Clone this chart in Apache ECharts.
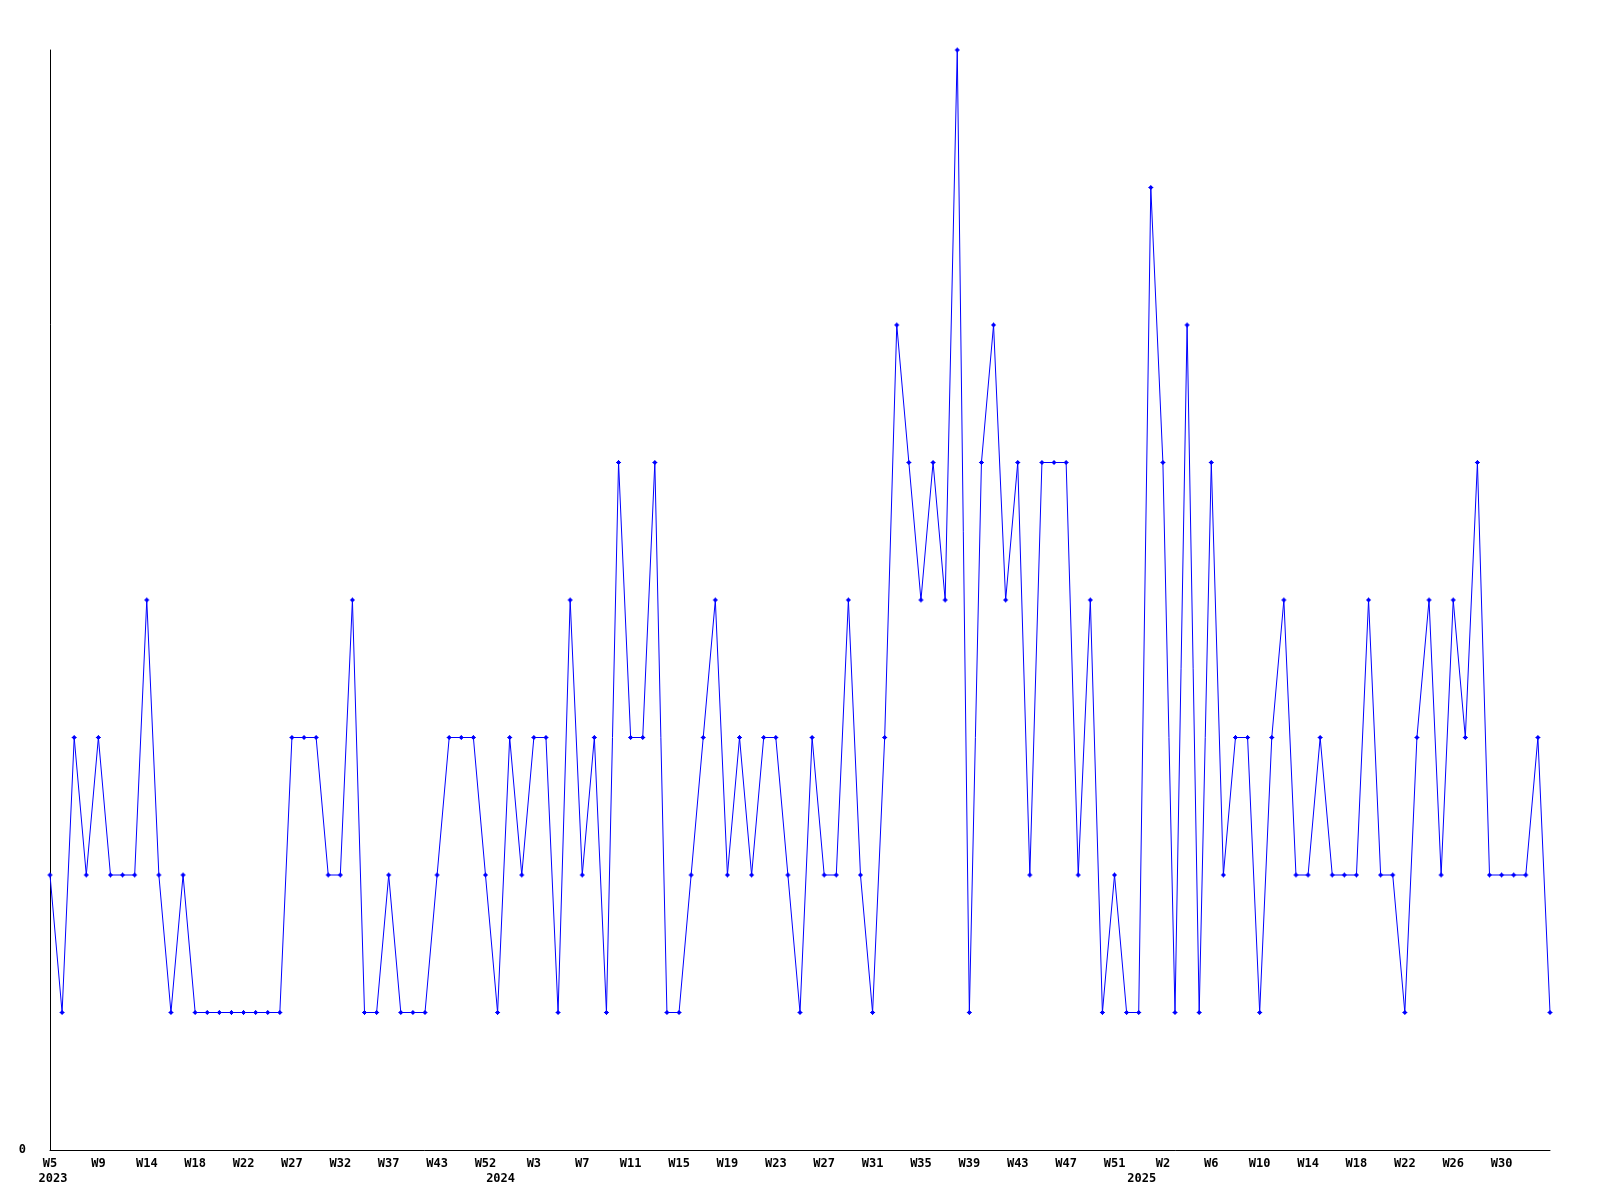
<!DOCTYPE html>
<html>
<head>
<meta charset="utf-8">
<script src="https://cdn.jsdelivr.net/npm/echarts@6/dist/echarts.min.js"></script>
<style>
  html, body { margin: 0; padding: 0; background: #fff; }
  #chart { width: 1600px; height: 1200px; }
</style>
</head>
<body>
<div id="chart"></div>
<script>
// Weekly categories (year-week)
const categories = [
  "2023-W5","2023-W6","2023-W7","2023-W8","2023-W9","2023-W10","2023-W11","2023-W12","2023-W14","2023-W15",
  "2023-W16","2023-W17","2023-W18","2023-W19","2023-W20","2023-W21","2023-W22","2023-W23","2023-W24","2023-W25",
  "2023-W27","2023-W28","2023-W29","2023-W31","2023-W32","2023-W33","2023-W34","2023-W35","2023-W37","2023-W38",
  "2023-W40","2023-W41","2023-W43","2023-W45","2023-W47","2023-W50","2023-W52",
  "2024-W0","2024-W1","2024-W2","2024-W3","2024-W4","2024-W5","2024-W6","2024-W7","2024-W8","2024-W9",
  "2024-W10","2024-W11","2024-W12","2024-W13","2024-W14","2024-W15","2024-W16","2024-W17","2024-W18","2024-W19",
  "2024-W20","2024-W21","2024-W22","2024-W23","2024-W24","2024-W25","2024-W26","2024-W27","2024-W28","2024-W29",
  "2024-W30","2024-W31","2024-W32","2024-W33","2024-W34","2024-W35","2024-W36","2024-W37","2024-W38","2024-W39",
  "2024-W40","2024-W41","2024-W42","2024-W43","2024-W44","2024-W45","2024-W46","2024-W47","2024-W48","2024-W49",
  "2024-W50","2024-W51","2024-W52",
  "2025-W0","2025-W1","2025-W2","2025-W3","2025-W4","2025-W5","2025-W6","2025-W7","2025-W8","2025-W9",
  "2025-W10","2025-W11","2025-W12","2025-W13","2025-W14","2025-W15","2025-W16","2025-W17","2025-W18","2025-W19",
  "2025-W20","2025-W21","2025-W22","2025-W23","2025-W24","2025-W25","2025-W26","2025-W27","2025-W28","2025-W29",
  "2025-W30","2025-W31","2025-W32","2025-W33","2025-W34"
];

// Weekly counts
const values = [
  2,1,3,2,3,2,2,2,4,2,
  1,2,1,1,1,1,1,1,1,1,
  3,3,3,2,2,4,1,1,2,1,
  1,1,2,3,3,3,2,1,3,2,
  3,3,1,4,2,3,1,5,3,3,
  5,1,1,2,3,4,2,3,2,3,
  3,2,1,3,2,2,4,2,1,3,
  6,5,4,5,4,8,1,5,6,4,
  5,2,5,5,5,2,4,1,2,1,
  1,7,5,1,6,1,5,2,3,3,
  1,3,4,2,2,3,2,2,2,4,
  2,2,1,3,4,2,4,3,5,2,
  2,2,2,3,1
];

const yTicks = [0, 8];

const weekStep = 4;
const lastWeekLabel = 120;

function yearOf(i) { return categories[i].split('-')[0]; }
function weekOf(i) { return categories[i].split('-')[1]; }
function isYearStart(i) { return i === 0 || yearOf(i) !== yearOf(i - 1); }
function isWeekLabel(i) { return i % weekStep === 0 && i <= lastWeekLabel; }

const chart = echarts.init(document.getElementById('chart'), null, { renderer: 'canvas' });

const font = { fontFamily: 'DejaVu Sans Mono', fontWeight: 'bold', fontSize: 12, color: '#000' };

chart.setOption({
  animation: false,
  backgroundColor: '#ffffff',
  grid: { left: 50, right: 50, top: 50, bottom: 50, containLabel: false },
  xAxis: {
    type: 'category',
    data: categories,
    boundaryGap: false,
    axisLine: { show: true, lineStyle: { color: '#000', width: 1 } },
    axisTick: { show: false },
    splitLine: { show: false },
    axisLabel: Object.assign({}, font, {
      margin: 6,
      lineHeight: 15,
      align: 'center',
      interval: function (idx) { return isWeekLabel(idx) || isYearStart(idx); },
      formatter: function (value, idx) {
        const w = isWeekLabel(idx) ? weekOf(idx) : '';
        const y = isYearStart(idx) ? '{y|' + yearOf(idx) + '}' : '';
        return w + '\n' + y;
      },
      rich: {
        y: Object.assign({}, font, { lineHeight: 15, padding: [0, 0, 0, 6] })
      }
    })
  },
  yAxis: {
    type: 'value',
    min: yTicks[0],
    max: yTicks[1],
    interval: yTicks[1] - yTicks[0],
    axisLine: { show: true, lineStyle: { color: '#000', width: 1 } },
    axisTick: { show: false },
    splitLine: { show: false },
    axisLabel: Object.assign({}, font, {
      margin: 24,
      formatter: function (v) { return v === 0 ? '0' : ''; }
    })
  },
  series: [{
    type: 'line',
    data: values,
    showAllSymbol: true,
    symbol: 'path://M2,0H3V1H4V2H5V3H4V4H3V5H2V4H1V3H0V2H1V1H2Z',
    symbolSize: 5,
    lineStyle: { color: '#0000ff', width: 1 },
    itemStyle: { color: '#0000ff' },
    emphasis: { disabled: true }
  }]
});
</script>
</body>
</html>
